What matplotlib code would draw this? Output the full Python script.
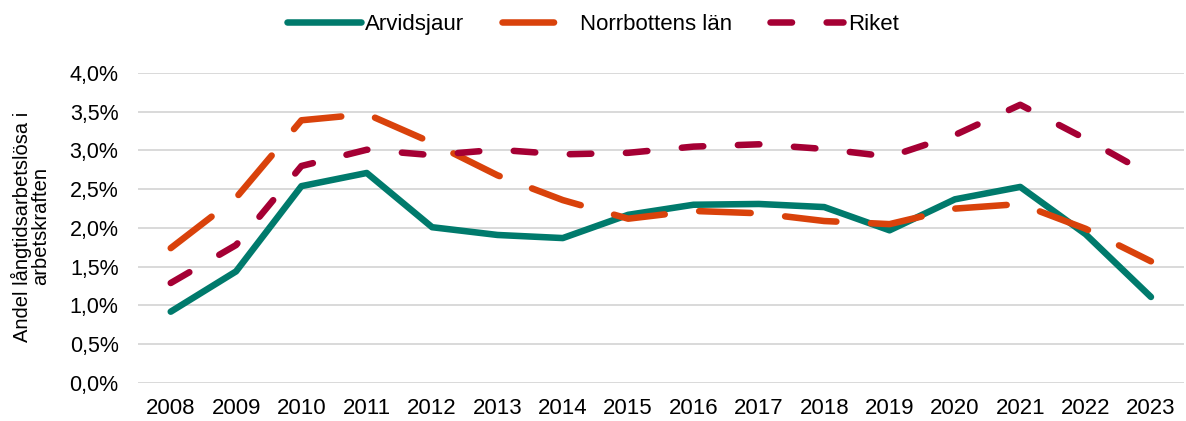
import matplotlib
matplotlib.use("Agg")
import matplotlib.pyplot as plt
from matplotlib.ticker import FuncFormatter

years = [str(y) for y in range(2008, 2024)]
arvidsjaur = [0.92, 1.44, 2.54, 2.71, 2.01, 1.91, 1.87, 2.17, 2.30, 2.31, 2.27, 1.97, 2.37, 2.53, 1.92, 1.11]
norrbotten = [1.74, 2.39, 3.39, 3.47, 3.10, 2.68, 2.36, 2.12, 2.22, 2.19, 2.09, 2.05, 2.25, 2.31, 1.99, 1.57]
riket = [1.29, 1.78, 2.80, 3.01, 2.94, 3.01, 2.95, 2.97, 3.05, 3.08, 3.02, 2.92, 3.20, 3.59, 3.15, 2.68]

plt.rcParams['font.family'] = ['Liberation Sans', 'DejaVu Sans']

fig = plt.figure(figsize=(11.86, 4.21), dpi=100)
ax = fig.add_axes([0.1164, 0.0903, 0.8816, 0.7363])

x = list(range(len(years)))
lw = 4.7
ax.plot(x, arvidsjaur, color='#007A6C', lw=lw, solid_capstyle='round', solid_joinstyle='round',
        label='Arvidsjaur', zorder=3)
ax.plot(x, norrbotten, color='#D9420B', lw=lw, dashes=(7.9, 5.3), dash_capstyle='round',
        dash_joinstyle='round', label='Norrbottens län', zorder=3)
ax.plot(x, riket, color='#A50034', lw=lw, dashes=(3.3, 5.3), dash_capstyle='round',
        dash_joinstyle='round', label='Riket', zorder=3)

ax.set_xlim(-0.5, len(years) - 0.5)
ax.set_ylim(0, 4.0)
ax.set_yticks([i * 0.5 for i in range(9)])
ax.yaxis.set_major_formatter(FuncFormatter(lambda v, p: f"{v:.1f}%".replace('.', ',')))
ax.set_xticks(x)
ax.set_xticklabels(years)
ax.grid(axis='y', color='#D9D9D9', lw=1.4)
ax.set_axisbelow(True)
for s in ax.spines.values():
    s.set_visible(False)
ax.tick_params(axis='both', length=0, colors='black')
ax.tick_params(axis='y', pad=14, labelsize=15.5)
ax.tick_params(axis='x', pad=11, labelsize=16)

fig.text(0.026, 0.462, 'Andel långtidsarbetslösa i\narbetskraften', rotation=90,
         ha='center', va='center', fontsize=14.5, linespacing=0.95, multialignment='center')

fig.legend(loc='upper center', bbox_to_anchor=(0.5, 1.015), ncol=3, frameon=False,
           fontsize=16, handlelength=3.3, columnspacing=1.7, handletextpad=0.2)

fig.savefig('out.png', dpi=100)
